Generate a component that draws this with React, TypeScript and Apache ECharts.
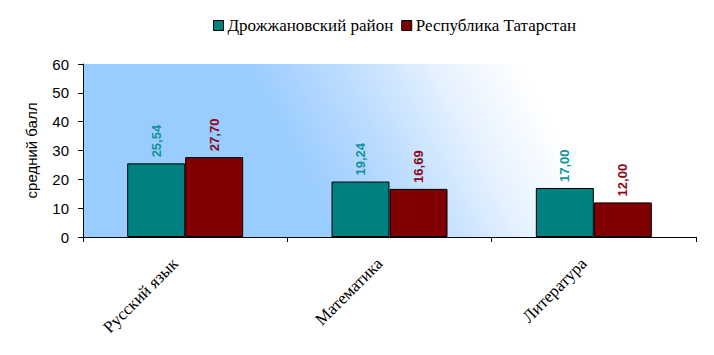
import React, { useEffect, useRef } from "react";
import * as echarts from "echarts";

const categories = ["Русский язык", "Математика", "Литература"];
const districtValues = [25.54, 19.24, 17.0];
const republicValues = [27.7, 16.69, 12.0];
const seriesNames = ["Дрожжановский район", "Республика Татарстан"];
const yTicks = { min: 0, max: 60, interval: 10 };

const fmt = (v: number) => v.toFixed(2).replace(".", ",");

export default function App() {
  const ref = useRef<HTMLDivElement>(null);
  useEffect(() => {
    if (!ref.current) return;
    const chart = echarts.init(ref.current, null, { renderer: "svg" });
    const labelCommon = {
      show: true,
      position: "top" as const,
      rotate: 90,
      align: "left" as const,
      verticalAlign: "middle" as const,
      distance: 6,
      fontFamily: "Liberation Sans",
      fontWeight: "bold" as const,
      fontSize: 13,
      formatter: (p: any) => fmt(p.value),
    };
    chart.setOption({
      animation: false,
      textStyle: { fontFamily: "Liberation Sans" },
      legend: {
        top: 17,
        left: 213,
        padding: 0,
        icon: "rect",
        itemWidth: 10,
        itemHeight: 10,
        itemGap: 8,
        itemStyle: { borderColor: "#000", borderWidth: 1 },
        textStyle: { fontFamily: "Liberation Serif", fontSize: 17, color: "#000", padding: [0, 0, 0, -1] },
        data: seriesNames,
      },
      grid: {
        left: 83,
        right: 18,
        top: 64,
        bottom: 118,
        show: true,
        borderWidth: 0,
        backgroundColor: {
          type: "linear",
          global: true,
          x: 162,
          y: -86,
          x2: 380,
          y2: -201,
          colorStops: [
            { offset: 0, color: "#99ccff" },
            { offset: 0.35, color: "#bcdcff" },
            { offset: 0.7, color: "#e6f2ff" },
            { offset: 1, color: "#ffffff" },
          ],
        },
      },
      xAxis: {
        type: "category",
        data: categories,
        axisLine: { lineStyle: { color: "#000", width: 1 } },
        axisTick: { show: true, alignWithLabel: false, length: 5, lineStyle: { color: "#000" } },
        axisLabel: {
          rotate: 45,
          margin: 14,
          padding: [0, 14, 0, 0],
          fontFamily: "Liberation Serif",
          fontSize: 17,
          color: "#000",
        },
      },
      yAxis: {
        type: "value",
        min: yTicks.min,
        max: yTicks.max,
        interval: yTicks.interval,
        name: "средний балл",
        nameLocation: "middle",
        nameGap: 44,
        nameTextStyle: { fontFamily: "Liberation Sans", fontSize: 15, color: "#000" },
        axisLine: { show: true, lineStyle: { color: "#000", width: 1 } },
        axisTick: { show: true, length: 5, lineStyle: { color: "#000" } },
        splitLine: { show: false },
        axisLabel: { fontFamily: "Liberation Sans", fontSize: 15, color: "#000", margin: 14 },
      },
      series: [
        {
          name: seriesNames[0],
          type: "bar",
          data: districtValues,
          barWidth: 58,
          barGap: "0%",
          itemStyle: { color: "#008080", borderColor: "#000", borderWidth: 1 },
          label: { ...labelCommon, color: "#15929c" },
        },
        {
          name: seriesNames[1],
          type: "bar",
          data: republicValues,
          barWidth: 58,
          barGap: "0%",
          itemStyle: { color: "#800000", borderColor: "#000", borderWidth: 1 },
          label: { ...labelCommon, color: "#8a0a1a" },
        },
      ],
    });
    return () => chart.dispose();
  }, []);
  return <div ref={ref} style={{ position: "absolute", left: 0, top: 0, width: 714, height: 355 }} />;
}
